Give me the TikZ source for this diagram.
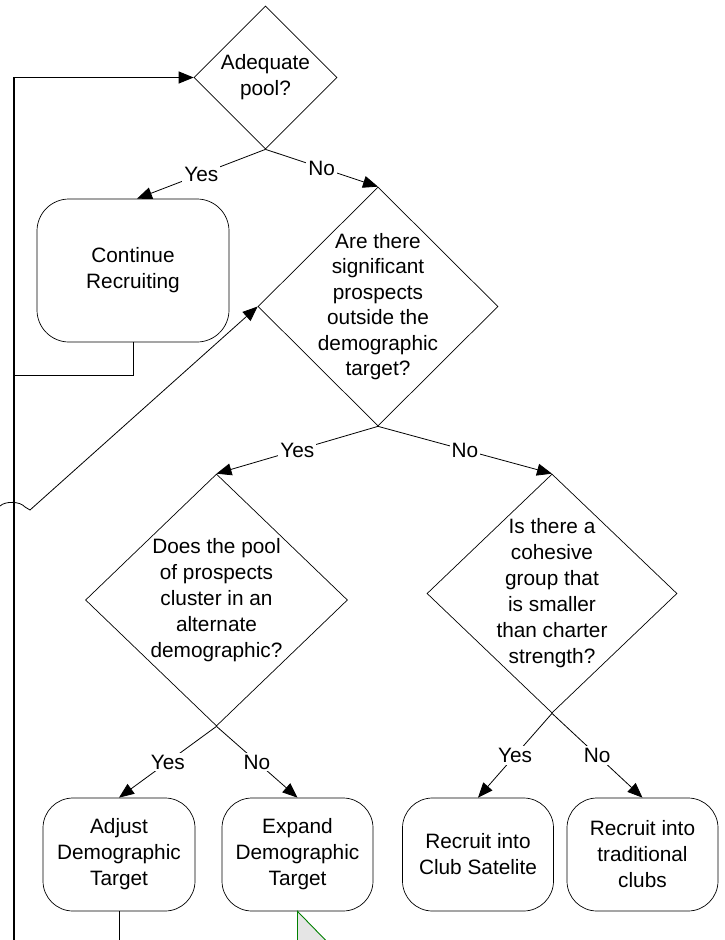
\documentclass[tikz,border=0pt]{standalone}
\usepackage{fontspec}
\setmainfont{Liberation Sans}
\usetikzlibrary{shapes.geometric,arrows.meta,calc}
\begin{document}
\begin{tikzpicture}[x=1pt,y=-1pt,
  font=\fontsize{20.8}{26}\selectfont,
  decision/.style={draw, diamond, inner sep=0pt, line width=0.7pt},
  terminal/.style={draw, rectangle, rounded corners=32pt, align=center,
                   inner sep=0pt, line width=0.7pt},
  txt/.style={align=center, inner sep=0pt},
  link/.style={line width=0.8pt},
  flow/.style={link, -{Triangle[length=15pt,width=12pt]}},
  rail/.style={line width=1.1pt},
  answer/.style={fill=white, inner sep=2pt, pos=0.5},
]
\useasboundingbox (0,0) rectangle (724,940);
\clip (0,0) rectangle (724,940);

% decisions
\node[decision, minimum width=143pt, minimum height=143pt] (pool) at (265.5,77.5) {};
\node[txt] at (pool.center) {Adequate\\pool?};

\node[decision, minimum width=240pt, minimum height=239pt] (outside) at (378,306.5) {};
\node[txt, font=\fontsize{20.8}{25.5}\selectfont] at (outside.center) {Are there\\significant\\prospects\\outside the\\demographic\\target?};

\node[decision, minimum width=262pt, minimum height=252pt] (cluster) at (216.5,600) {};
\node[txt] at (cluster.center) {Does the pool\\of prospects\\cluster in an\\alternate\\demographic?};

\node[decision, minimum width=250pt, minimum height=239pt] (cohesive) at (552,593.5) {};
\node[txt] at (cohesive.center) {Is there a\\cohesive\\group that\\is smaller\\than charter\\strength?};

% outcomes
\node[terminal, minimum width=192pt, minimum height=143pt] (cont) at (133,270.5) {Continue\\Recruiting};
\node[terminal, minimum width=152pt, minimum height=113pt, rounded corners=30pt] (adjust) at (119,854.5) {Adjust\\Demographic\\Target};
\node[terminal, minimum width=151pt, minimum height=113pt, rounded corners=30pt] (expand) at (297.5,854.5) {Expand\\Demographic\\Target};
\node[terminal, minimum width=151pt, minimum height=113pt, rounded corners=30pt] (satellite) at (478,854.5) {Recruit into\\Club Satelite};
\node[terminal, minimum width=151pt, minimum height=113pt, rounded corners=30pt] (trad) at (642.5,854.5) {Recruit into\\traditional\\clubs};

% branches
\draw[flow] (pool.south) -- node[answer]{Yes} ($(cont.north)+(4,0)$);
\draw[flow] (pool.south) -- node[answer]{No} (outside.north);
\draw[flow] (outside.south) -- node[answer]{Yes} (cluster.north);
\draw[flow] (outside.south) -- node[answer]{No} (cohesive.north);
\draw[flow] (cluster.south) -- node[answer]{Yes} (adjust.north);
\draw[flow] (cluster.south) -- node[answer]{No} (expand.north);
\draw[flow] (cohesive.south) -- node[answer]{Yes} (satellite.north);
\draw[flow] (cohesive.south) -- node[answer]{No} (trad.north);

% return rail on the left
\coordinate (railbot) at (14,940);
\coordinate (railjoin) at (14,375);
\draw[rail, -{Triangle[length=15pt,width=12pt]}] (railbot) |- (pool.west);
\draw[link] (cont.south) |- (railjoin);

% loop back into the second question, hopping over the rail
\coordinate (hopin) at (0,506);
\coordinate (hopout) at (25,507);
\draw[flow] (hopin) .. controls (5,501) and (20,501) .. (hopout) -- (30,510) -- (outside.west);

% leads continuing below
\coordinate (adjustout) at (119,940);
\draw[link] (adjust.south) -- (adjustout);
\draw[draw=green!50!black, fill=black!10, line width=0.9pt]
  (expand.south) -- ++(36,37) -- ++(-36,0) -- cycle;
\end{tikzpicture}
\end{document}
